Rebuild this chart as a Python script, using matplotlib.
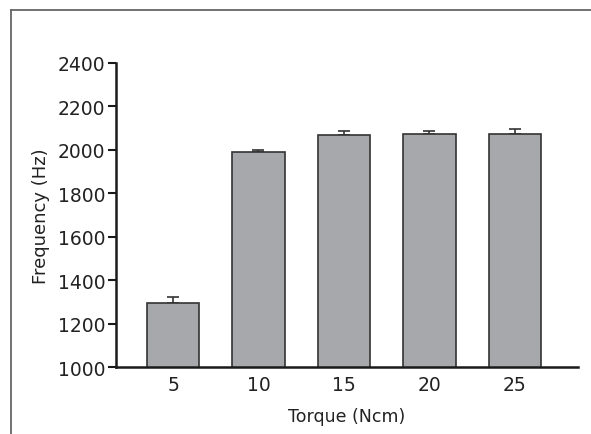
import matplotlib.pyplot as plt
from matplotlib.lines import Line2D

torque = ['5', '10', '15', '20', '25']
frequency = [1293, 1992, 2069, 2074, 2074]
error_up = [30, 8, 18, 14, 20]

plt.rcParams['font.family'] = 'DejaVu Sans'

fig = plt.figure(figsize=(5.91, 4.35), dpi=100)
ax = fig.add_axes([0.1963, 0.154, 0.782, 0.699])

x = range(len(torque))
ax.bar(x, frequency, width=0.61, color='#a7a8ab', edgecolor='#333333', linewidth=1.2, zorder=2)
ax.errorbar(x, frequency, yerr=[[0] * len(error_up), error_up], fmt='none',
            ecolor='#333333', elinewidth=1.2, capsize=4, capthick=1.2, zorder=1)

ax.set_xlim(-0.667, 4.74)
ax.set_ylim(1000, 2400)
ax.set_yticks(range(1000, 2401, 200))
ax.set_xticks(list(x))
ax.set_xticklabels(torque)

for s in ['top', 'right']:
    ax.spines[s].set_visible(False)
for s in ['left', 'bottom']:
    ax.spines[s].set_linewidth(1.8)
    ax.spines[s].set_color('#1a1a1a')

ax.tick_params(axis='y', length=5.5, width=1.5, labelsize=13.5, pad=2, color='#1a1a1a', labelcolor='#222222')
ax.tick_params(axis='x', length=0, labelsize=13.5, pad=6, labelcolor='#222222')
ax.set_ylabel('Frequency (Hz)', fontsize=13, labelpad=6, color='#222222')
ax.set_xlabel('Torque (Ncm)', fontsize=12.5, labelpad=9, color='#222222')

# outer frame (top and left edges)
fig.add_artist(Line2D([11 / 591, 1], [1 - 11 / 435, 1 - 11 / 435], color='#666666', linewidth=1.3))
fig.add_artist(Line2D([11 / 591, 11 / 591], [0, 1 - 11 / 435], color='#666666', linewidth=1.3))

plt.savefig('out.png', dpi=100)
plt.close()
